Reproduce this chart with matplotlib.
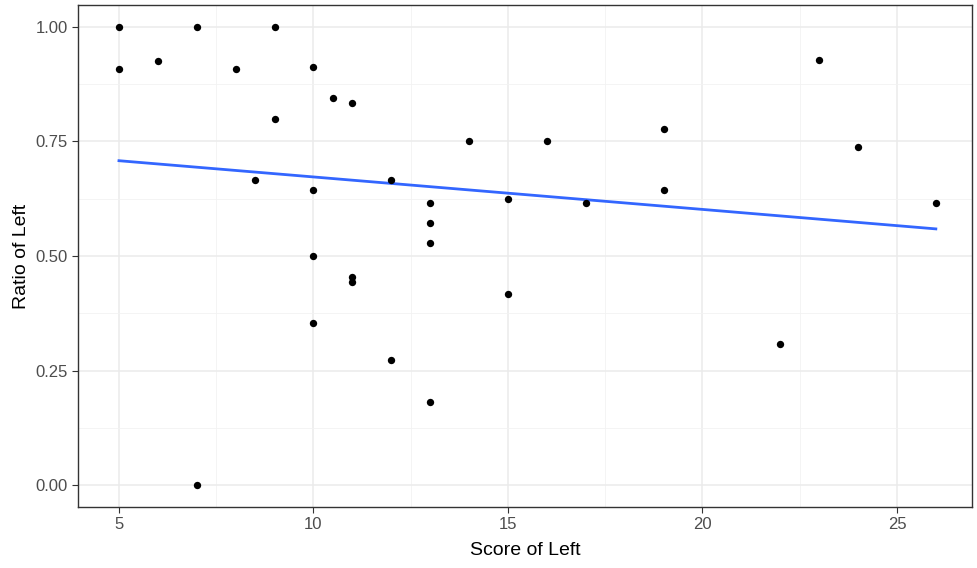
import numpy as np
import matplotlib
matplotlib.use("Agg")
import matplotlib.pyplot as plt
from matplotlib.ticker import MultipleLocator

plt.rcParams['font.family'] = ['Liberation Sans', 'DejaVu Sans']

score = [5, 5, 6, 7, 7, 8, 8.5, 9, 9, 10, 10, 10, 10, 10.5, 11, 11, 11, 12, 12,
         13, 13, 13, 13, 14, 15, 15, 16, 17, 19, 19, 22, 23, 24, 26]
ratio = [1.00, 0.909, 0.926, 1.00, 0.00, 0.909, 0.667, 1.00, 0.80, 0.913, 0.643, 0.50, 0.353,
         0.846, 0.833, 0.455, 0.444, 0.667, 0.273, 0.615, 0.571, 0.529, 0.182, 0.75,
         0.625, 0.417, 0.75, 0.615, 0.778, 0.643, 0.308, 0.929, 0.737, 0.615]
xticks = [5, 10, 15, 20, 25]
yticks = [0.00, 0.25, 0.50, 0.75, 1.00]
ylabels = ["0.00", "0.25", "0.50", "0.75", "1.00"]

x = np.array(score)
y = np.array(ratio)
slope, intercept = np.polyfit(x, y, 1)
xl = np.linspace(x.min(), x.max(), 80)

fig = plt.figure(figsize=(9.77, 5.68), dpi=100)
ax = fig.add_axes([0.0798, 0.1074, 0.9151, 0.8838])
ax.set_facecolor("white")
ax.scatter(x, y, s=28, color="black", zorder=3, linewidths=0)
ax.plot(xl, intercept + slope * xl, color="#3366FF", lw=2, zorder=2)

ax.set_xlim(3.946, 26.93)
ax.set_ylim(-0.048, 1.048)
ax.set_xticks(xticks)
ax.set_yticks(yticks)
ax.set_yticklabels(ylabels)
ax.xaxis.set_minor_locator(MultipleLocator(2.5))
ax.yaxis.set_minor_locator(MultipleLocator(0.125))
ax.grid(True, which="major", color="#EBEBEB", lw=1.1, zorder=0)
ax.grid(True, which="minor", color="#F2F2F2", lw=0.6, zorder=0)
ax.set_axisbelow(True)
for s in ax.spines.values():
    s.set_color("#333333")
    s.set_linewidth(1.0)
ax.tick_params(which="major", length=4, color="#333333", labelcolor="#4D4D4D", labelsize=12)
ax.tick_params(which="minor", length=0)
ax.set_xlabel("Score of Left", fontsize=14, color="black", labelpad=7)
ax.set_ylabel("Ratio of Left", fontsize=14, color="black", labelpad=4)
fig.savefig("out.png", dpi=100, facecolor="white")
